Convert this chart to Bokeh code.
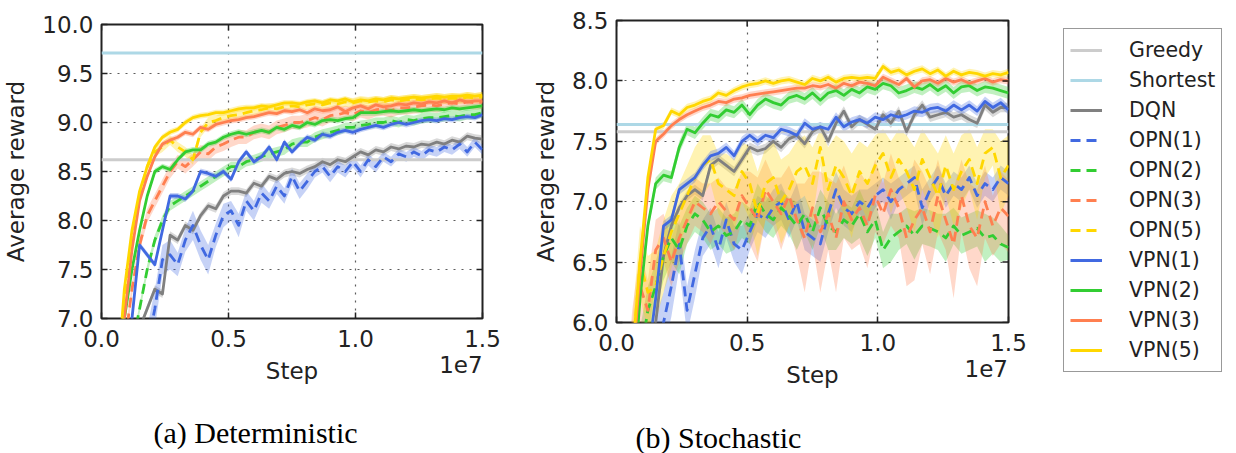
import math
from bokeh.plotting import figure
from bokeh.layouts import row, column
from bokeh.models import (Range1d, FixedTicker, CustomJSTickFormatter, LinearAxis,
                          Label, Legend, LegendItem)
from bokeh.embed import file_html
from bokeh.resources import INLINE

# training steps (one evaluation every 300k steps)
steps = [300000 * i for i in range(1, 51)]
x_ticks = [0, 5000000, 10000000, 15000000]
x_exponent_tick = [14150000]
det_yticks = [7.0, 7.5, 8.0, 8.5, 9.0, 9.5, 10.0]
sto_yticks = [6.0, 6.5, 7.0, 7.5, 8.0, 8.5]

# ---- (a) Deterministic ----
det_greedy = 8.62
det_shortest = 9.71
det_dqn = [4.0, 5.0, 5.8, 6.5, 6.9, 7.1, 7.3, 7.25, 7.85, 7.8,
           7.95, 7.9, 8.05, 8.15, 8.12, 8.25, 8.3, 8.3, 8.28, 8.38,
           8.35, 8.45, 8.42, 8.48, 8.5, 8.48, 8.52, 8.55, 8.6, 8.57,
           8.62, 8.6, 8.65, 8.7, 8.67, 8.72, 8.7, 8.75, 8.73, 8.76,
           8.75, 8.78, 8.77, 8.8, 8.78, 8.82, 8.8, 8.86, 8.84, 8.83]
det_opn1 = [3.8, 4.6, 5.3, 5.9, 6.3, 6.7, 7.1, 7.6, 7.65, 7.55,
            7.8, 7.95, 7.75, 7.6, 7.85, 8.05, 8.1, 7.95, 8.2, 8.1,
            8.28, 8.2, 8.35, 8.25, 8.45, 8.3, 8.4, 8.5, 8.55, 8.45,
            8.55, 8.5, 8.6, 8.5, 8.62, 8.55, 8.65, 8.6, 8.68, 8.65,
            8.7, 8.66, 8.72, 8.7, 8.75, 8.72, 8.78, 8.7, 8.8, 8.72]
det_opn2 = [4.5, 5.4, 6.1, 6.7, 7.1, 7.5, 7.8, 8.0, 8.15, 8.2,
            8.25, 8.3, 8.35, 8.4, 8.45, 8.5, 8.55, 8.55, 8.6, 8.62,
            8.65, 8.68, 8.7, 8.72, 8.78, 8.8, 8.8, 8.85, 8.88, 8.9,
            8.92, 8.95, 8.95, 8.97, 8.98, 9.0, 9.0, 9.02, 9.0, 9.03,
            9.02, 9.04, 9.05, 9.05, 9.06, 9.07, 9.06, 9.08, 9.08, 9.1]
det_opn3 = [5.0, 5.9, 6.7, 7.3, 7.75, 8.05, 8.2, 8.35, 8.5, 8.6,
            8.55, 8.62, 8.7, 8.68, 8.75, 8.78, 8.82, 8.85, 8.85, 8.9,
            8.92, 8.9, 8.95, 8.97, 9.0, 9.0, 9.02, 9.05, 9.03, 9.07,
            9.08, 9.1, 9.08, 9.12, 9.1, 9.13, 9.14, 9.12, 9.15, 9.15,
            9.16, 9.17, 9.18, 9.17, 9.19, 9.2, 9.19, 9.21, 9.2, 9.21]
det_opn5 = [5.3, 6.2, 7.1, 7.8, 8.25, 8.55, 8.7, 8.75, 8.82, 8.75,
            8.7, 8.62, 8.9, 9.0, 9.02, 9.05, 9.07, 9.08, 9.1, 9.12,
            9.13, 9.15, 9.14, 9.16, 9.17, 9.16, 9.18, 9.19, 9.18, 9.2,
            9.19, 9.21, 9.2, 9.22, 9.21, 9.22, 9.21, 9.23, 9.22, 9.23,
            9.24, 9.23, 9.24, 9.25, 9.24, 9.25, 9.24, 9.26, 9.25, 9.26]
det_vpn1 = [4.5, 5.5, 6.3, 7.0, 7.75, 7.65, 7.55, 7.9, 8.25, 8.25,
            8.22, 8.3, 8.5, 8.48, 8.45, 8.5, 8.42, 8.6, 8.7, 8.6,
            8.65, 8.75, 8.62, 8.8, 8.7, 8.78, 8.85, 8.82, 8.88, 8.86,
            8.9, 8.92, 8.9, 8.93, 8.95, 8.97, 8.95, 8.98, 9.0, 8.98,
            9.0, 9.02, 9.03, 9.02, 9.04, 9.03, 9.05, 9.06, 9.05, 9.08]
det_vpn2 = [5.0, 6.0, 7.0, 7.5, 7.9, 8.25, 8.5, 8.55, 8.52, 8.62,
            8.7, 8.72, 8.72, 8.78, 8.8, 8.85, 8.88, 8.9, 8.88, 8.9,
            8.92, 8.9, 8.95, 8.93, 8.97, 8.95, 9.0, 8.98, 9.02, 9.03,
            9.02, 9.04, 9.05, 9.1, 9.1, 9.1, 9.11, 9.12, 9.11, 9.12,
            9.13, 9.12, 9.13, 9.14, 9.13, 9.15, 9.14, 9.15, 9.16, 9.17]
det_vpn3 = [5.3, 6.1, 7.0, 7.7, 8.2, 8.45, 8.65, 8.78, 8.82, 8.85,
            8.9, 8.88, 8.95, 8.93, 8.98, 9.0, 9.02, 9.03, 9.05, 9.06,
            9.08, 9.1, 9.09, 9.12, 9.11, 9.13, 9.1, 9.14, 9.12, 9.13,
            9.16, 9.11, 9.15, 9.17, 9.14, 9.18, 9.16, 9.17, 9.19, 9.18,
            9.2, 9.19, 9.21, 9.2, 9.22, 9.2, 9.23, 9.21, 9.22, 9.22]
det_vpn5 = [5.5, 6.3, 7.3, 7.9, 8.3, 8.55, 8.75, 8.85, 8.9, 8.93,
            9.0, 9.05, 9.07, 9.08, 9.1, 9.1, 9.12, 9.14, 9.15, 9.15,
            9.17, 9.16, 9.18, 9.2, 9.2, 9.19, 9.21, 9.22, 9.2, 9.23,
            9.22, 9.24, 9.21, 9.23, 9.22, 9.24, 9.23, 9.25, 9.24, 9.25,
            9.26, 9.25, 9.26, 9.27, 9.26, 9.27, 9.27, 9.28, 9.27, 9.28]
# spread of the shaded bands (+/- around the mean)
det_opn1_spread = [0.1, 0.1, 0.15, 0.15, 0.2, 0.2, 0.2, 0.15, 0.15, 0.12,
                   0.12, 0.15, 0.15, 0.15, 0.12, 0.12, 0.1, 0.12, 0.1, 0.1,
                   0.1, 0.08, 0.08, 0.08, 0.08, 0.08, 0.08, 0.06, 0.06, 0.06,
                   0.06, 0.06, 0.06, 0.06, 0.06, 0.06, 0.05, 0.05, 0.05, 0.05,
                   0.05, 0.05, 0.05, 0.05, 0.05, 0.05, 0.05, 0.05, 0.05, 0.05]
det_spread = {"DQN": 0.04, "OPN(2)": 0.05, "OPN(3)": 0.07, "OPN(5)": 0.05,
              "VPN(1)": 0.03, "VPN(2)": 0.03, "VPN(3)": 0.03, "VPN(5)": 0.03}

# ---- (b) Stochastic ----
sto_greedy = 7.58
sto_shortest = 7.64
sto_dqn = [3.8, 4.5, 5.1, 5.6, 6.0, 6.55, 6.8, 6.95, 7.05, 7.1,
           7.05, 7.3, 7.35, 7.3, 7.25, 7.35, 7.45, 7.42, 7.44, 7.5,
           7.45, 7.52, 7.55, 7.48, 7.58, 7.62, 7.5, 7.65, 7.75, 7.62,
           7.68, 7.64, 7.6, 7.72, 7.65, 7.75, 7.58, 7.72, 7.8, 7.7,
           7.72, 7.74, 7.7, 7.72, 7.68, 7.65, 7.8, 7.74, 7.78, 7.78]
sto_opn1 = [4.0, 4.6, 5.1, 5.5, 5.8, 6.0, 6.3, 6.65, 6.1, 6.4,
            6.7, 6.8, 6.6, 6.85, 6.65, 6.6, 6.75, 6.9, 6.85, 6.95,
            7.0, 6.85, 7.0, 6.75, 6.7, 6.65, 6.9, 7.1, 6.95, 6.9,
            7.0, 6.95, 7.05, 7.1, 7.0, 7.1, 7.15, 7.2, 6.95, 7.1,
            7.2, 7.05, 7.15, 7.1, 7.2, 7.05, 7.15, 7.1, 7.2, 7.15]
sto_opn2 = [4.5, 5.2, 5.7, 6.1, 6.3, 6.55, 6.7, 6.6, 6.8, 6.9,
            6.85, 6.75, 6.8, 6.72, 6.75, 6.85, 6.8, 7.0, 6.9, 6.85,
            6.95, 6.88, 6.8, 6.9, 6.75, 6.95, 6.8, 6.75, 6.85, 6.8,
            6.9, 6.75, 6.85, 6.6, 6.7, 6.75, 6.8, 6.72, 6.8, 6.78,
            6.75, 6.7, 6.8, 6.72, 6.75, 6.78, 6.7, 6.72, 6.65, 6.62]
sto_opn3 = [5.0, 5.8, 6.3, 6.1, 6.6, 6.7, 6.5, 6.7, 6.85, 7.0,
            6.95, 6.9, 7.0, 6.92, 6.85, 7.05, 6.95, 6.85, 7.1, 7.0,
            6.9, 7.05, 6.85, 6.7, 6.95, 6.75, 6.9, 6.7, 7.0, 6.85,
            6.95, 6.8, 7.05, 6.9, 7.1, 6.95, 6.7, 6.85, 6.95, 6.75,
            7.05, 6.85, 6.65, 7.05, 6.8, 6.7, 7.0, 6.8, 6.95, 6.88]
sto_opn5 = [5.0, 5.7, 6.5, 6.25, 6.3, 6.55, 6.75, 6.9, 7.05, 7.2,
            7.3, 7.35, 7.15, 7.1, 7.05, 7.25, 7.15, 6.9, 7.15, 7.2,
            7.0, 7.1, 7.25, 7.3, 7.15, 7.45, 7.1, 7.3, 7.2, 7.05,
            7.25, 7.15, 7.3, 7.4, 7.2, 7.35, 7.25, 7.1, 7.35, 7.2,
            7.05, 7.3, 7.1, 7.25, 7.35, 7.15, 7.4, 7.45, 7.2, 7.3]
sto_vpn1 = [4.0, 4.6, 5.2, 5.7, 6.2, 6.8, 6.85, 7.1, 7.15, 7.2,
            7.3, 7.38, 7.4, 7.45, 7.38, 7.5, 7.55, 7.5, 7.55, 7.53,
            7.6, 7.58, 7.55, 7.65, 7.6, 7.62, 7.6, 7.7, 7.62, 7.66,
            7.68, 7.65, 7.7, 7.68, 7.72, 7.7, 7.72, 7.75, 7.74, 7.77,
            7.78, 7.75, 7.8, 7.76, 7.8, 7.75, 7.83, 7.78, 7.82, 7.76]
sto_vpn2 = [4.5, 5.3, 6.2, 6.8, 7.15, 7.22, 7.2, 7.45, 7.6, 7.57,
            7.65, 7.72, 7.7, 7.76, 7.74, 7.8, 7.72, 7.8, 7.85, 7.82,
            7.8, 7.86, 7.88, 7.85, 7.9, 7.84, 7.9, 7.92, 7.88, 7.93,
            7.9, 7.95, 7.93, 7.98, 7.96, 7.9, 7.92, 7.95, 7.93, 7.97,
            7.92, 7.96, 7.9, 7.95, 7.96, 7.92, 7.95, 7.94, 7.92, 7.9]
sto_vpn3 = [4.8, 5.6, 6.4, 7.1, 7.5, 7.56, 7.63, 7.68, 7.72, 7.75,
            7.78, 7.8, 7.83, 7.82, 7.85, 7.86, 7.88, 7.89, 7.9, 7.91,
            7.92, 7.93, 7.94, 7.94, 7.96, 7.95, 7.97, 7.94, 7.98, 7.96,
            7.99, 7.98, 7.96, 8.03, 8.0, 7.97, 8.02, 7.95, 8.0, 8.01,
            7.98, 8.02, 7.99, 8.01, 7.98, 8.0, 8.02, 7.99, 8.01, 8.0]
sto_vpn5 = [5.0, 5.7, 6.5, 7.2, 7.6, 7.63, 7.75, 7.72, 7.78, 7.8,
            7.83, 7.85, 7.9, 7.88, 7.92, 7.95, 7.97, 7.98, 8.0, 7.98,
            8.0, 8.01, 7.99, 7.97, 8.02, 8.0, 8.03, 7.99, 8.02, 8.03,
            8.02, 8.03, 8.02, 8.12, 8.07, 8.09, 8.05, 8.08, 8.1, 8.06,
            8.09, 8.04, 8.08, 8.05, 8.07, 8.06, 8.04, 8.06, 8.05, 8.07]
sto_opn1_spread = [0.2, 0.2, 0.2, 0.2, 0.25, 0.25, 0.25, 0.2, 0.2, 0.2,
                   0.15, 0.15, 0.15, 0.15, 0.15, 0.2, 0.15, 0.15, 0.15, 0.15,
                   0.15, 0.15, 0.15, 0.15, 0.15, 0.15, 0.15, 0.15, 0.15, 0.15,
                   0.1, 0.15, 0.1, 0.1, 0.15, 0.1, 0.1, 0.1, 0.15, 0.1,
                   0.1, 0.1, 0.1, 0.1, 0.1, 0.1, 0.1, 0.1, 0.1, 0.1]
sto_opn2_spread = [0.25, 0.25, 0.25, 0.2, 0.2, 0.2, 0.2, 0.2, 0.15, 0.15,
                   0.15, 0.15, 0.15, 0.15, 0.15, 0.15, 0.15, 0.15, 0.15, 0.15,
                   0.15, 0.15, 0.2, 0.15, 0.15, 0.15, 0.2, 0.15, 0.15, 0.15,
                   0.2, 0.2, 0.15, 0.15, 0.2, 0.15, 0.15, 0.2, 0.15, 0.15,
                   0.15, 0.2, 0.15, 0.15, 0.15, 0.15, 0.2, 0.15, 0.15, 0.1]
sto_opn3_spread = [0.3, 0.3, 0.3, 0.25, 0.25, 0.2, 0.2, 0.2, 0.2, 0.2,
                   0.2, 0.25, 0.2, 0.2, 0.25, 0.2, 0.3, 0.35, 0.25, 0.2,
                   0.3, 0.25, 0.3, 0.45, 0.3, 0.5, 0.3, 0.45, 0.3, 0.25,
                   0.3, 0.35, 0.3, 0.25, 0.3, 0.25, 0.4, 0.5, 0.3, 0.35,
                   0.3, 0.25, 0.45, 0.3, 0.35, 0.4, 0.3, 0.25, 0.3, 0.3]
sto_opn5_spread = [0.3, 0.3, 0.3, 0.3, 0.3, 0.3, 0.3, 0.25, 0.25, 0.25,
                   0.25, 0.2, 0.25, 0.3, 0.3, 0.25, 0.3, 0.35, 0.3, 0.3,
                   0.35, 0.3, 0.25, 0.25, 0.3, 0.15, 0.35, 0.25, 0.3, 0.35,
                   0.25, 0.3, 0.25, 0.2, 0.3, 0.25, 0.3, 0.35, 0.25, 0.3,
                   0.35, 0.25, 0.3, 0.3, 0.25, 0.3, 0.2, 0.15, 0.3, 0.25]
sto_spread = {"DQN": 0.04, "VPN(1)": 0.04, "VPN(2)": 0.05, "VPN(3)": 0.03, "VPN(5)": 0.03}

GREEDY_C = "#cccccc"
SHORTEST_C = "#add8e6"
DQN_C = "#808080"
BLUE = "#4169e1"
GREEN = "#32cd32"
ORANGE = "#ff7f50"
YELLOW = "#ffd700"
INK = "#222222"
FONT = "DejaVu Sans"
DASH = "10 6"
TOP_H = 400          # height of the row holding the two panels and the legend


def band(vals, spread):
    if isinstance(spread, list):
        lo = [v - s for v, s in zip(vals, spread)]
        hi = [v + s for v, s in zip(vals, spread)]
    else:
        lo = [v - spread for v in vals]
        hi = [v + spread for v in vals]
    return lo, hi


def style_axis(ax):
    ax.axis_line_color = None
    ax.major_tick_in = 6
    ax.major_tick_out = 0
    ax.major_tick_line_color = INK
    ax.major_tick_line_width = 1.5
    ax.minor_tick_line_color = None
    ax.major_label_text_font = FONT
    ax.major_label_text_font_size = "23px"
    ax.major_label_text_color = INK
    ax.axis_label_text_font = FONT
    ax.axis_label_text_font_size = "23px"
    ax.axis_label_text_font_style = "normal"
    ax.axis_label_text_color = INK


def panel(width, b_left, b_right, b_top, frame_h, yticks, greedy, shortest,
          curves, spreads):
    y0, y1 = yticks[0], yticks[-1]
    p = figure(width=width, height=TOP_H, x_range=Range1d(0, 15000000),
               y_range=Range1d(y0, y1), output_backend="svg", toolbar_location=None,
               min_border_left=b_left, min_border_right=b_right,
               min_border_top=b_top, min_border_bottom=TOP_H - b_top - frame_h)
    p.background_fill_color = "white"
    p.border_fill_color = "white"
    p.outline_line_color = INK
    p.outline_line_width = 2

    xt = FixedTicker(ticks=x_ticks)
    yt = FixedTicker(ticks=yticks)
    for ax in p.axis:
        style_axis(ax)
    p.xaxis.ticker = xt
    p.xaxis.formatter = CustomJSTickFormatter(code="return (tick / 1e7).toFixed(1);")
    p.xaxis.axis_label = "Step"
    p.xaxis.major_label_standoff = 11
    p.xaxis.axis_label_standoff = 8
    p.yaxis.ticker = yt
    p.yaxis.formatter = CustomJSTickFormatter(code="return tick.toFixed(1);")
    p.yaxis.axis_label = "Average reward"
    p.yaxis.major_label_standoff = 8
    p.yaxis.axis_label_standoff = 10

    # scale factor of the step axis, set on the line of the axis label
    exp_ax = LinearAxis(ticker=FixedTicker(ticks=x_exponent_tick),
                        formatter=CustomJSTickFormatter(code="return '1e7';"))
    style_axis(exp_ax)
    exp_ax.major_tick_line_color = None
    exp_ax.major_label_standoff = -31
    p.add_layout(exp_ax, "below")

    p.xgrid.ticker = xt
    p.ygrid.ticker = yt
    p.grid.grid_line_color = "#333333"
    p.grid.grid_line_dash = "2 6"
    p.grid.grid_line_width = 1.2
    p.grid.grid_line_alpha = 0.8

    # shaded bands
    for name, vals, color, dash in curves:
        lo, hi = band(vals, spreads[name])
        p.varea(x=steps, y1=lo, y2=hi, fill_color=color, fill_alpha=0.3)

    p.line(x=[0, 15000000], y=[greedy, greedy], line_color=GREEDY_C, line_width=3)
    p.line(x=[0, 15000000], y=[shortest, shortest], line_color=SHORTEST_C, line_width=3)
    for name, vals, color, dash in curves:
        p.line(x=steps, y=vals, line_color=color, line_width=2.8,
               line_dash=dash, line_join="round")

    # inward tick marks on the right and top edges of the frame
    p.scatter(x=[15000000] * len(yticks), y=yticks, marker="dash", size=12,
              line_color=INK, line_width=1.5)
    p.scatter(x=x_ticks, y=[y1] * len(x_ticks), marker="dash", angle=math.pi / 2,
              size=12, line_color=INK, line_width=1.5)
    return p


det_curves = [("DQN", det_dqn, DQN_C, "solid"),
              ("OPN(1)", det_opn1, BLUE, DASH),
              ("OPN(2)", det_opn2, GREEN, DASH),
              ("OPN(3)", det_opn3, ORANGE, DASH),
              ("OPN(5)", det_opn5, YELLOW, DASH),
              ("VPN(1)", det_vpn1, BLUE, "solid"),
              ("VPN(2)", det_vpn2, GREEN, "solid"),
              ("VPN(3)", det_vpn3, ORANGE, "solid"),
              ("VPN(5)", det_vpn5, YELLOW, "solid")]
det_spreads = dict(det_spread)
det_spreads["OPN(1)"] = det_opn1_spread

sto_curves = [("DQN", sto_dqn, DQN_C, "solid"),
              ("OPN(1)", sto_opn1, BLUE, DASH),
              ("OPN(2)", sto_opn2, GREEN, DASH),
              ("OPN(3)", sto_opn3, ORANGE, DASH),
              ("OPN(5)", sto_opn5, YELLOW, DASH),
              ("VPN(1)", sto_vpn1, BLUE, "solid"),
              ("VPN(2)", sto_vpn2, GREEN, "solid"),
              ("VPN(3)", sto_vpn3, ORANGE, "solid"),
              ("VPN(5)", sto_vpn5, YELLOW, "solid")]
sto_spreads = dict(sto_spread)
sto_spreads["OPN(1)"] = sto_opn1_spread
sto_spreads["OPN(2)"] = sto_opn2_spread
sto_spreads["OPN(3)"] = sto_opn3_spread
sto_spreads["OPN(5)"] = sto_opn5_spread

pa = panel(520, 100, 38, 24, 294, det_yticks, det_greedy, det_shortest,
           det_curves, det_spreads)
pb = panel(530, 96, 42, 20, 302, sto_yticks, sto_greedy, sto_shortest,
           sto_curves, sto_spreads)

# legend panel: the keys are the stochastic-run series, kept outside this
# panel's (unit) ranges so only their legend entries show
pleg = figure(width=186, height=TOP_H, x_range=Range1d(0, 1), y_range=Range1d(0, 1),
              output_backend="svg", toolbar_location=None,
              x_axis_location=None, y_axis_location=None,
              min_border_left=13, min_border_top=28, min_border_right=0, min_border_bottom=0)
pleg.outline_line_color = None
pleg.grid.grid_line_color = None
pleg.background_fill_color = "white"
pleg.border_fill_color = "white"
items = []
r = pleg.line(x=[0, 15000000], y=[sto_greedy, sto_greedy], line_color=GREEDY_C, line_width=3)
items.append(LegendItem(label="Greedy", renderers=[r]))
r = pleg.line(x=[0, 15000000], y=[sto_shortest, sto_shortest], line_color=SHORTEST_C, line_width=3)
items.append(LegendItem(label="Shortest", renderers=[r]))
for name, vals, color, dash in sto_curves:
    r = pleg.line(x=steps, y=vals, line_color=color, line_width=2.8, line_dash=dash)
    items.append(LegendItem(label=name, renderers=[r]))
legend = Legend(items=items, location="top_left",
                label_text_font=FONT, label_text_font_size="20.5px",
                label_text_color=INK,
                label_height=30, glyph_height=30, glyph_width=32,
                spacing=0, padding=6, label_standoff=27, margin=0,
                border_line_color="#333333", border_line_width=1.5,
                background_fill_color="white", background_fill_alpha=1.0)
pleg.add_layout(legend)


def caption_strip(width, text, cx, cy):
    c = figure(width=width, height=453 - TOP_H, x_range=Range1d(0, width),
               y_range=Range1d(0, 453 - TOP_H), output_backend="svg",
               toolbar_location=None, x_axis_location=None, y_axis_location=None,
               min_border=0)
    c.outline_line_color = None
    c.grid.grid_line_color = None
    c.background_fill_color = "white"
    c.border_fill_color = "white"
    c.add_layout(Label(x=cx, y=cy, text=text, text_align="center",
                       text_baseline="middle", text_font="Liberation Serif",
                       text_font_size="30px", text_color="black"))
    return c


cap_a = caption_strip(520, "(a) Deterministic", 255, 21)
cap_b = caption_strip(716, "(b) Stochastic", 198, 16)

# each panel sits in its own column so its frame keeps its own margins
layout = column(row(column(pa), column(pb), column(pleg)), row(cap_a, cap_b))
open("out.html", "w").write(file_html(layout, INLINE))
